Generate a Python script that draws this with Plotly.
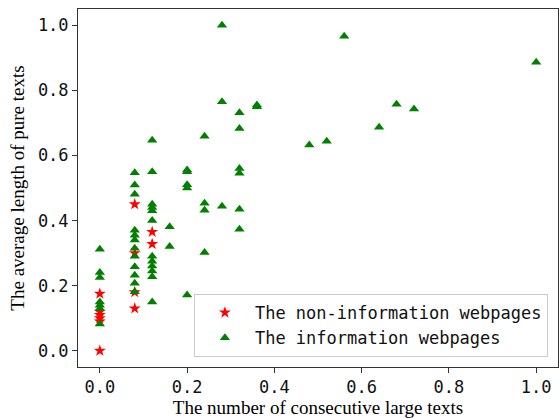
import plotly.graph_objects as go

# Non-information webpages (red stars)
non_info_x = [0, 0, 0, 0, 0, 0, 0.08, 0.08, 0.08, 0.08, 0.12, 0.12]
non_info_y = [0.175, 0.12, 0.11, 0.10, 0.09, 0.0, 0.45, 0.30, 0.18, 0.13, 0.365, 0.328]

# Information webpages (green triangles)
info_x = ([0] * 7 + [0.08] * 12 + [0.12] * 12 + [0.16] * 2 + [0.2] * 5 + [0.24] * 4
          + [0.28] * 3 + [0.32] * 6 + [0.36] * 2 + [0.48, 0.52, 0.56, 0.64, 0.68, 0.72, 1.0])
info_y = ([0.312, 0.24, 0.225, 0.15, 0.14, 0.13, 0.082]
          + [0.547, 0.509, 0.481, 0.37, 0.355, 0.34, 0.315, 0.29, 0.258, 0.232, 0.207, 0.181]
          + [0.647, 0.55, 0.45, 0.44, 0.43, 0.40, 0.29, 0.275, 0.26, 0.245, 0.227, 0.15]
          + [0.381, 0.32]
          + [0.555, 0.55, 0.51, 0.50, 0.171]
          + [0.659, 0.453, 0.432, 0.302]
          + [1.0, 0.765, 0.444]
          + [0.731, 0.683, 0.56, 0.545, 0.435, 0.373]
          + [0.755, 0.75]
          + [0.632, 0.644, 0.966, 0.687, 0.757, 0.743, 0.886])

tick_vals = [0.0, 0.2, 0.4, 0.6, 0.8, 1.0]
tick_text = ["0.0", "0.2", "0.4", "0.6", "0.8", "1.0"]

mono = "DejaVu Sans Mono"
serif = "Liberation Serif"

fig = go.Figure()
fig.add_trace(go.Scatter(
    x=non_info_x, y=non_info_y, mode="markers",
    name="The non-information webpages",
    marker=dict(symbol="star", size=9, color="#ff0000", line=dict(width=0)),
))
fig.add_trace(go.Scatter(
    x=info_x, y=info_y, mode="markers",
    name="The information webpages",
    marker=dict(symbol="triangle-up", size=9, color="#008000", line=dict(width=0)),
))

axis_common = dict(
    showgrid=False, zeroline=False, showline=True, linecolor="#333333", linewidth=1,
    mirror=True, ticks="outside", ticklen=5, tickwidth=1, tickcolor="#333333",
    tickfont=dict(family=mono, size=17, color="#111111"),
    tickvals=tick_vals, ticktext=tick_text,
)

fig.update_layout(
    width=560, height=418,
    margin=dict(l=78, r=2, t=9, b=51),
    paper_bgcolor="white", plot_bgcolor="white",
    xaxis=dict(range=[-0.05, 1.05],
               title=dict(text="The number of consecutive large texts",
                          font=dict(family=serif, size=19, color="black"), standoff=2),
               **axis_common),
    yaxis=dict(range=[-0.05, 1.05],
               title=dict(text="The average length of pure texts",
                          font=dict(family=serif, size=19, color="black"), standoff=8),
               **axis_common),
    legend=dict(
        x=0.979, y=0.028, xanchor="right", yanchor="bottom",
        bgcolor="rgba(255,255,255,0.8)", bordercolor="#cccccc", borderwidth=1,
        font=dict(family=mono, size=17, color="#111111"),
        itemwidth=50,
    ),
    showlegend=True,
)

fig.write_html("out.html")
